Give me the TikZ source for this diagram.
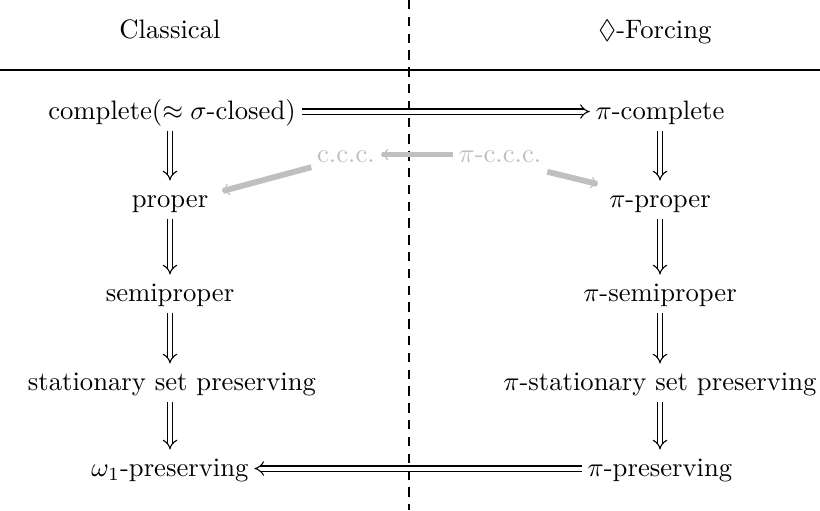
\documentclass[tikz,border=0pt]{standalone}
\usepackage{amssymb}
\usetikzlibrary{arrows.meta}
\begin{document}
\begin{tikzpicture}[x=0.375pt,y=-0.375pt,
  lab/.style={anchor=base,inner sep=2pt,text height=1.8ex,text depth=0.5ex},
  glab/.style={lab,text=gray!50},
  imp/.style={double,double distance=1.5pt,-{Implies},line width=0.4pt},
  garr/.style={gray!50,line width=2.2pt,-{To[line width=0.45pt,length=2.8pt,width=4.4pt]}}]
\useasboundingbox (0,0) rectangle (820,510);
\node[lab] (hl) at (170,38) {Classical};
\node[lab] (hr) at (655,38) {$\Diamond$-Forcing};
\coordinate (hlineL) at (0,70);
\coordinate (hlineR) at (820,70);
\draw (hlineL) -- (hlineR);
\coordinate (vtop) at (409,0);
\coordinate (vbot) at (409,510);
\draw[dashed,dash pattern=on 3.5pt off 2.8pt] (vtop) -- (vbot);
\node[lab] (c) at (172,119) {complete($\approx\sigma$-closed)};
\node[lab] (pc) at (660,119) {$\pi$-complete};
\node[glab] (ccc) at (346,162) {c.c.c.};
\node[glab] (pccc) at (500,162) {$\pi$-c.c.c.};
\node[lab] (p) at (170,207) {proper};
\node[lab] (pp) at (660,207) {$\pi$-proper};
\node[lab] (s) at (170,301) {semiproper};
\node[lab] (ps) at (660,301) {$\pi$-semiproper};
\node[lab] (st) at (172,390) {stationary set preserving};
\node[lab] (pst) at (660,390) {$\pi$-stationary set preserving};
\node[lab] (w) at (170,476) {$\omega_1$-preserving};
\node[lab] (pw) at (660,476) {$\pi$-preserving};
\draw[imp] (c) -- (pc);
\draw[imp] (c.south -| p) -- (p);
\draw[imp] (p) -- (s);
\draw[imp] (s) -- (st.north -| s);
\draw[imp] (st.south -| w) -- (w);
\draw[imp] (pc) -- (pp);
\draw[imp] (pp) -- (ps);
\draw[imp] (ps) -- (pst);
\draw[imp] (pst) -- (pw);
\draw[imp] (pw) -- (w);
\draw[garr] (pccc) -- (ccc);
\draw[garr,shorten >=3pt] (ccc.200) -- (p.8);
\draw[garr,shorten >=2pt] (pccc.340) -- (pp.166);
\end{tikzpicture}
\end{document}
